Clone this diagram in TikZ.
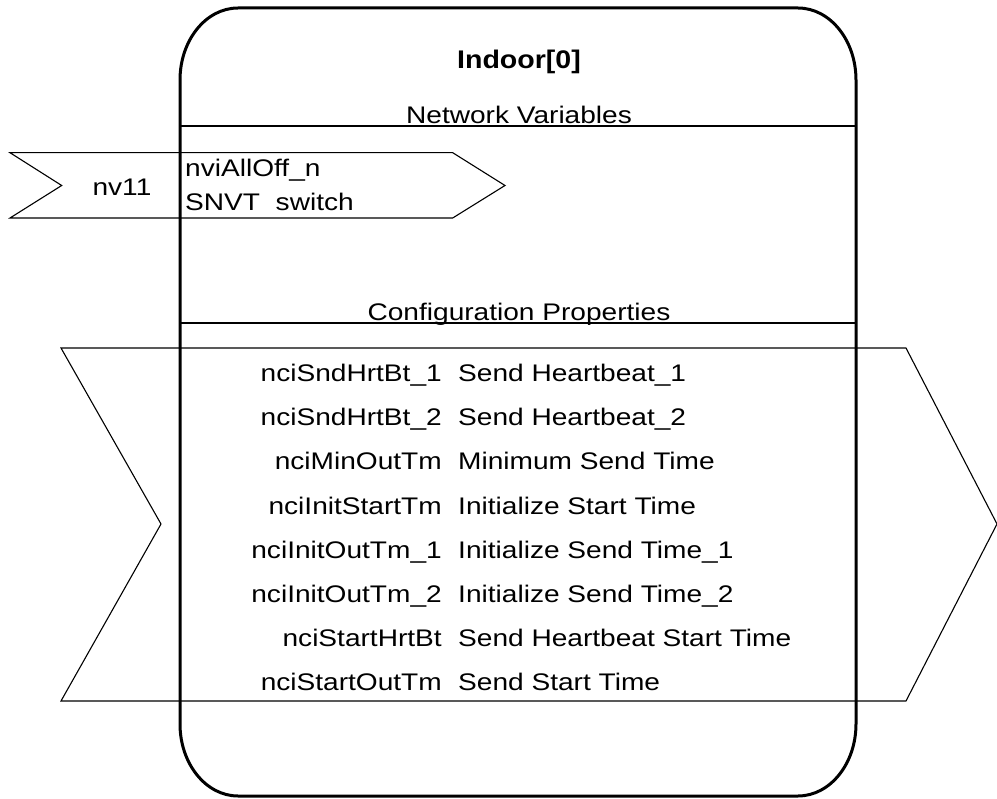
\documentclass[tikz,border=0pt]{standalone}
\usepackage{fontspec}
\setmainfont{Liberation Sans}
\begin{document}
\begin{tikzpicture}[x=1pt,y=-1pt,
  txt/.style={inner sep=0pt, font=\fontsize{24}{24}\selectfont, xscale=1.17},
  ttl/.style={inner sep=0pt, font=\fontsize{25.5}{26}\selectfont\bfseries, xscale=1.12},
  frame/.style={line width=3pt, line join=round},
  sep/.style={line width=1.5pt},
  port/.style={line width=1.1pt, line join=miter}]
\useasboundingbox (0,0) rectangle (997,799);
% configuration property port
\draw[port] (61,348) -- (906,348) -- (997,524) -- (906,701) -- (61,701) -- (161,524) -- cycle;
% network variable port
\draw[port] (10,152.7) -- (452.7,152.7) -- (505,185.5) -- (452.7,218) -- (10,218) -- (61.7,185.5) -- cycle;
% block frame
\draw[frame] (180,80) .. controls (180,40.2) and (206,8) .. (238,8) -- (798,8)
  .. controls (830,8) and (856,40.2) .. (856,80) -- (856,724)
  .. controls (856,763.8) and (830,796) .. (798,796) -- (238,796)
  .. controls (206,796) and (180,763.8) .. (180,724) -- cycle;
\draw[sep] (180,126) -- (856,126);
\draw[sep] (180,323) -- (856,323);
% titles
\node[ttl, anchor=base] (title) at (519,69) {Indoor[0]};
\node[txt, anchor=base] (nvhead) at (519,123.5) {Network Variables};
\node[txt, anchor=base] (cphead) at (519,320.5) {Configuration Properties};
% network variable
\node[txt, anchor=base] (nvnum) at (122,195.5) {nv11};
\node[txt, anchor=base west] (nvname) at (185,177) {nviAllOff\_n};
\begin{scope}
\clip (180,188) rectangle (460,211);
\node[txt, anchor=base west] (nvtype) at (185,210.5) {SNVT\_switch};
\end{scope}
% configuration properties
\foreach \n/\d [count=\i from 0] in {
  nciSndHrtBt\_1/Send Heartbeat\_1,
  nciSndHrtBt\_2/Send Heartbeat\_2,
  nciMinOutTm/Minimum Send Time,
  nciInitStartTm/Initialize Start Time,
  nciInitOutTm\_1/Initialize Send Time\_1,
  nciInitOutTm\_2/Initialize Send Time\_2,
  nciStartHrtBt/Send Heartbeat Start Time,
  nciStartOutTm/Send Start Time}{
  \node[txt, anchor=base east] (cpn\i) at (442,381.6+44.14*\i) {\n};
  \node[txt, anchor=base west] (cpd\i) at (458,381.6+44.14*\i) {\d};
}
\end{tikzpicture}
\end{document}
